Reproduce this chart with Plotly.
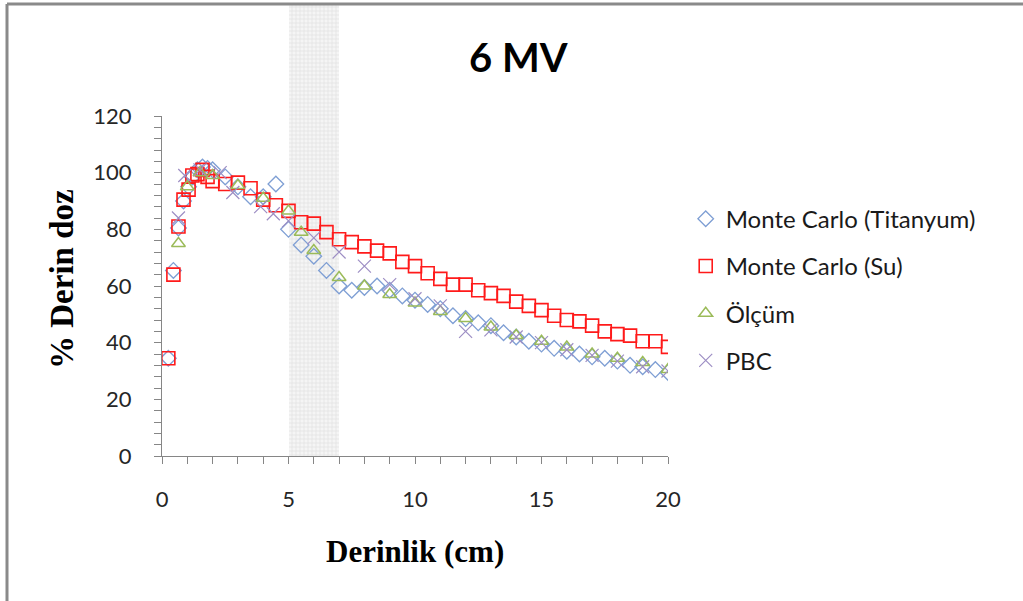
import plotly.graph_objects as go

# ---------------- data ----------------
depth_grid = [0.25, 0.45, 0.65, 0.85, 1.05, 1.2, 1.4, 1.6, 1.8, 2.0, 2.5, 3.0, 3.5, 4.0, 4.5,
              5.0, 5.5, 6.0, 6.5, 7.0, 7.5, 8.0, 8.5, 9.0, 9.5, 10.0, 10.5, 11.0, 11.5, 12.0,
              12.5, 13.0, 13.5, 14.0, 14.5, 15.0, 15.5, 16.0, 16.5, 17.0, 17.5, 18.0, 18.5,
              19.0, 19.5, 20.0]

mc_titanyum = [34.5, 65.5, 80.5, 90, 95, 98.5, 101, 102, 101.5, 101, 98.5, 95, 91.5, 91.5, 96,
               80, 74.5, 70.5, 65.5, 60, 58.5, 59.5, 60, 58.5, 56.5, 55, 53.5, 52, 49.5, 48.5,
               47, 46, 43.5, 42, 40.5, 39.5, 38, 37, 36, 35, 34.5, 33.5, 32, 31.5, 30.5, 29.5]

mc_su = [34.5, 64, 81, 90.5, 94, 99, 99.5, 101, 98.5, 97, 96, 96.5, 94.5, 90.5, 88.5,
         86.5, 82.5, 82, 79, 76.5, 75.5, 74, 72.5, 71.5, 68.5, 67, 64.5, 62.5, 60.5, 60.5,
         58.5, 57.5, 56.5, 54.5, 53, 51.5, 49.5, 48, 47.5, 46, 44, 43, 42.5, 40.5, 40.5, 38.5]

olcum_x = [0.65, 1.0, 1.5, 2.0, 3, 4, 5, 5.5, 6, 7, 8, 9, 10, 11, 12, 13, 14, 15, 16, 17, 18, 19, 20]
olcum_y = [75, 95, 100, 99, 95.5, 91, 86.5, 79, 72.5, 63, 60, 57, 54, 51, 48.5, 45.5, 42.5,
           40.5, 38.5, 36, 34.5, 33, 30.5]

pbc_x = [0.65, 0.9, 1.5, 2.3, 2.8, 3.9, 4.4, 5, 6, 7, 8, 9, 10, 11, 12, 13, 14, 15, 16, 17, 18, 19, 20]
pbc_y = [84, 99, 101, 100, 93, 88, 85.5, 83, 77, 72, 67, 60.5, 55.5, 53, 44, 44.5, 42, 40,
         37.5, 35.5, 33.5, 31.5, 30]

shade_range = [5, 7]

x_major = [0, 5, 10, 15, 20]
y_major = [0, 20, 40, 60, 80, 100, 120]

# ---------------- figure ----------------
fig = go.Figure()

# shaded band (drawn on a hidden full-height axis pair)
fig.add_trace(go.Bar(
    x=[(shade_range[0] + shade_range[1]) / 2], y=[1],
    width=[shade_range[1] - shade_range[0]],
    marker=dict(color="#F3F3F3", line=dict(width=0),
                pattern=dict(shape="+", fgcolor="#D0D0D0", bgcolor="#F5F5F5",
                             size=4, solidity=0.35)),
    xaxis="x", yaxis="y", showlegend=False, hoverinfo="skip"))

common = dict(mode="markers", xaxis="x2", yaxis="y2")

fig.add_trace(go.Scatter(
    x=depth_grid, y=mc_titanyum, name="Monte Carlo (Titanyum)", legendgroup="a",
    marker=dict(symbol="diamond-open", size=12, color="#7F9FD4", line=dict(width=1.3)),
    **common))
fig.add_trace(go.Scatter(
    x=depth_grid, y=mc_su, name="Monte Carlo (Su)", legendgroup="b",
    marker=dict(symbol="square-open", size=13, color="#FF1A1A", line=dict(width=1.6)),
    **common))
fig.add_trace(go.Scatter(
    x=olcum_x, y=olcum_y, name="Ölçüm", legendgroup="c",
    marker=dict(symbol="triangle-up-open", size=12, color="#9BBB59", line=dict(width=1.5)),
    **common))
fig.add_trace(go.Scatter(
    x=pbc_x, y=pbc_y, name="PBC", legendgroup="d",
    marker=dict(symbol="x-thin", size=13, color="#9D8EC4",
                line=dict(width=1.2, color="#9D8EC4")),
    **common))

axis_col = "#868686"
tick_font = dict(family="Lato", size=22, color="#262626")

plot_h = 451.0
y2_top = (456 - 116) / plot_h

fig.update_layout(
    width=1023, height=601,
    margin=dict(l=162, r=355, t=5, b=145, autoexpand=False),
    paper_bgcolor="white", plot_bgcolor="rgba(0,0,0,0)",
    bargap=0,
    xaxis=dict(domain=[0, 1], range=[0, 20], visible=False, fixedrange=True),
    yaxis=dict(domain=[0, 1], range=[0, 1], visible=False, fixedrange=True),
    xaxis2=dict(domain=[0, 1], range=[0, 20], anchor="y2", automargin=False,
                showline=True, linecolor=axis_col, linewidth=1,
                showgrid=False, zeroline=False,
                tickvals=x_major, ticktext=[str(v) for v in x_major],
                ticks="outside", ticklen=7, tickcolor=axis_col, tickwidth=1,
                minor=dict(dtick=1, ticks="outside", ticklen=7, tickcolor=axis_col, tickwidth=1),
                tickfont=tick_font, ticklabelstandoff=17),
    yaxis2=dict(domain=[0, y2_top], range=[0, 120], anchor="x2", automargin=False,
                showline=True, linecolor=axis_col, linewidth=1,
                showgrid=False, zeroline=False,
                tickvals=y_major, ticktext=[str(v) for v in y_major],
                ticks="outside", ticklen=7, tickcolor=axis_col, tickwidth=1,
                minor=dict(dtick=4, ticks="outside", ticklen=7, tickcolor=axis_col, tickwidth=1),
                tickfont=tick_font, ticklabelstandoff=18),
    legend=dict(x=1.035, y=0.575, xanchor="left", yanchor="top",
                font=dict(family="Lato", size=24, color="#1A1A1A"),
                tracegroupgap=13, bgcolor="rgba(0,0,0,0)"),
    showlegend=True,
)

# title and axis titles as annotations
fig.add_annotation(text="<b>6 MV</b>", xref="paper", yref="paper",
                   x=(518 - 162) / 506, y=(456 - 57) / plot_h,
                   xanchor="center", yanchor="middle", showarrow=False,
                   font=dict(family="Lato", size=40, color="#000000"))
fig.add_annotation(text="<b>Derinlik (cm)</b>", xref="paper", yref="paper",
                   x=(415 - 162) / 506, y=(456 - 551) / plot_h,
                   xanchor="center", yanchor="middle", showarrow=False,
                   font=dict(family="Liberation Serif", size=31, color="#000000"))
fig.add_annotation(text="<b>% Derin doz</b>", xref="paper", yref="paper",
                   x=(62 - 162) / 506, y=(456 - 279) / plot_h, textangle=-90,
                   xanchor="center", yanchor="middle", showarrow=False,
                   font=dict(family="Liberation Serif", size=33, color="#000000"))

# outer frame lines (top and left)
fig.add_shape(type="line", xref="paper", yref="paper",
              x0=(7 - 162) / 506, x1=(1023 - 162) / 506,
              y0=(456 - 4) / plot_h, y1=(456 - 4) / plot_h,
              line=dict(color="#8A8A8A", width=3))
fig.add_shape(type="line", xref="paper", yref="paper",
              x0=(7 - 162) / 506, x1=(7 - 162) / 506,
              y0=(456 - 4) / plot_h, y1=(456 - 601) / plot_h,
              line=dict(color="#8A8A8A", width=3))

fig.write_html("out.html", config={"displayModeBar": False},
               post_script="document.body.style.margin='0';")
